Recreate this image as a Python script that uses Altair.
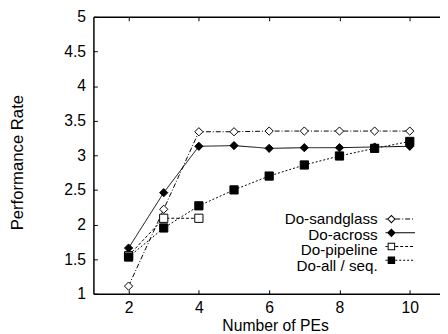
import altair as alt
import pandas as pd

# ---- data ----
pes = [2, 3, 4, 5, 6, 7, 8, 9, 10]
sandglass = [1.11, 2.22, 3.34, 3.34, 3.35, 3.35, 3.35, 3.35, 3.35]
across = [1.66, 2.46, 3.13, 3.14, 3.10, 3.11, 3.11, 3.12, 3.13]
pipeline_pes = [2, 3, 4]
pipeline = [1.55, 2.09, 2.09]
seq = [1.53, 1.95, 2.27, 2.50, 2.70, 2.86, 2.99, 3.10, 3.20]

series_names = ["Do-sandglass", "Do-across", "Do-pipeline", "Do-all / seq."]
x_ticks = [2, 4, 6, 8, 10]
y_ticks = [1, 1.5, 2, 2.5, 3, 3.5, 4, 4.5, 5]

rows = []
for name, xs_, ys_ in [
    (series_names[0], pes, sandglass),
    (series_names[1], pes, across),
    (series_names[2], pipeline_pes, pipeline),
    (series_names[3], pes, seq),
]:
    for xv, yv in zip(xs_, ys_):
        rows.append({"pes": xv, "rate": yv, "series": name,
                     "series2": name, "series3": name})
df = pd.DataFrame(rows)

# ---- styles ----
FONT = "Liberation Sans"
dash_px = [[5, 2, 1, 2], [1, 0], [3, 2], [2, 2]]

# legend glyphs (line sample + marker) as filled SVG paths, unit = 4 px
U = 4.0
H = 0.5 / U


def seg_rects(a, b, pattern):
    if pattern[1] == 0:
        return f"M{a},{-H}H{b}V{H}H{a}Z"
    pat = [p / U for p in pattern]
    out, pos, i = [], a, 0
    while pos < b:
        ln = pat[i % len(pat)]
        if i % 2 == 0:
            end = min(pos + ln, b)
            out.append(f"M{pos:.3f},{-H}H{end:.3f}V{H}H{pos:.3f}Z")
        pos += ln
        i += 1
    return "".join(out)


def diamond(r, hole=None):
    p = f"M{-r},0L0,{-r}L{r},0L0,{r}Z"
    if hole:
        p += f"M{-hole},0L0,{hole}L{hole},0L0,{-hole}Z"
    return p


def square(r, hole=None):
    p = f"M{-r},{-r}H{r}V{r}H{-r}Z"
    if hole:
        p += f"M{-hole},{-hole}V{hole}H{hole}V{-hole}Z"
    return p


markers = [diamond(1.1, 0.75), diamond(1.1), square(0.95, 0.7), square(0.95)]
legend_paths = [
    seg_rects(-1.5, -1.0, dp) + seg_rects(1.0, 6.0, dp) + mk
    for dp, mk in zip(dash_px, markers)
]

xs = alt.Scale(domain=[1, 10.86], nice=False, zero=False)
ys = alt.Scale(domain=[1, 5], nice=False, zero=False)

x_main = alt.X(
    "pes:Q", scale=xs,
    axis=alt.Axis(orient="bottom", values=x_ticks, ticks=False, tickSize=0,
                  domain=True, domainColor="black", domainWidth=1.5, grid=False,
                  labelFont=FONT, labelFontSize=16, labelColor="black",
                  labelPadding=19.5, labelBaseline="alphabetic",
                  title="Number of PEs", titleFont=FONT, titleFontSize=16,
                  titleFontWeight="normal", titleColor="black",
                  titleX=185, titleY=37, titleBaseline="alphabetic",
                  titleAlign="center"))
y_main = alt.Y(
    "rate:Q", scale=ys,
    axis=alt.Axis(orient="left", values=y_ticks, format="~g", ticks=False, tickSize=0,
                  domain=True, domainColor="black", domainWidth=1.5, grid=False,
                  labelFont=FONT, labelFontSize=16, labelColor="black",
                  labelPadding=8, labelBaseline="middle",
                  title="Performance Rate", titleFont=FONT, titleFontSize=17,
                  titleFontWeight="normal", titleColor="black", titleAngle=270,
                  titleX=-72, titleY=148, titleBaseline="alphabetic",
                  titleAlign="center"))

lines = alt.Chart(df).mark_line(color="black", strokeWidth=1).encode(
    x=x_main, y=y_main,
    strokeDash=alt.StrokeDash("series:N", sort=series_names,
                              scale=alt.Scale(range=dash_px), legend=None),
)

points = alt.Chart(df).mark_point(size=70, stroke="black", strokeWidth=1, opacity=1).encode(
    x=alt.X("pes:Q", scale=xs, axis=None),
    y=alt.Y("rate:Q", scale=ys, axis=None),
    shape=alt.Shape("series:N", sort=series_names,
                    scale=alt.Scale(range=["diamond", "diamond", "square", "square"]),
                    legend=None),
    fill=alt.Fill("series:N", sort=series_names,
                  scale=alt.Scale(range=["white", "black", "white", "black"]),
                  legend=None),
)

LEG_X, LEG_Y = 297, 198.5

# legend 1: the texts (entry height clipped to 15 px)
legend_text = alt.Chart(df).mark_point(filled=True, color="black", opacity=0).encode(
    x=alt.X("pes:Q", scale=xs, axis=None),
    y=alt.Y("rate:Q", scale=ys, axis=None),
    shape=alt.Shape(
        "series2:N", sort=series_names,
        scale=alt.Scale(range=legend_paths),
        legend=alt.Legend(title=None, orient="none", legendX=LEG_X, legendY=LEG_Y,
                          symbolSize=U * U * 4, symbolOpacity=0,
                          labelFont=FONT, labelFontSize=15.5, labelColor="black",
                          labelAlign="right", labelBaseline="middle",
                          labelOffset={"expr": "-23"},
                          clipHeight=15, rowPadding=0,
                          padding=0, offset=0)),
)

# legend 2: the line samples with markers
legend_glyph = alt.Chart(df).mark_point(filled=True, color="black", opacity=0).encode(
    x=alt.X("pes:Q", scale=xs, axis=None),
    y=alt.Y("rate:Q", scale=ys, axis=None),
    shape=alt.Shape(
        "series3:N", sort=series_names,
        scale=alt.Scale(range=legend_paths),
        legend=alt.Legend(title=None, orient="none", legendX=LEG_X, legendY=LEG_Y + 1,
                          symbolSize=U * U * 4, symbolFillColor="black",
                          symbolStrokeColor="black", symbolStrokeWidth=0,
                          symbolOpacity=1, labelExpr="''",
                          labelFont=FONT, labelFontSize=13, rowPadding=0,
                          padding=0, offset=0)),
)

NEG4 = {"expr": "-4"}

ticks_bl = alt.Chart(df).mark_point(opacity=0).encode(
    x=alt.X("pes:Q", scale=xs,
            axis=alt.Axis(orient="bottom", offset=NEG4, values=x_ticks, ticks=True,
                          tickSize=4, tickColor="black", tickWidth=1, domain=False,
                          labels=False, grid=False, title=None)),
    y=alt.Y("rate:Q", scale=ys,
            axis=alt.Axis(orient="left", offset=NEG4, values=y_ticks, ticks=True,
                          tickSize=4, tickColor="black", tickWidth=1, domain=False,
                          labels=False, grid=False, title=None)),
)

ticks_top = alt.Chart(df).mark_point(opacity=0).encode(
    x=alt.X("pes:Q", scale=xs,
            axis=alt.Axis(orient="top", offset=NEG4, values=x_ticks, ticks=True,
                          tickSize=4, tickColor="black", tickWidth=1, domain=False,
                          labels=False, grid=False, title=None)),
    y=alt.Y("rate:Q", scale=ys, axis=None),
)

frame_top = alt.Chart(df).mark_point(opacity=0).encode(
    x=alt.X("pes:Q", scale=xs,
            axis=alt.Axis(orient="top", ticks=False, labels=False, domain=True,
                          domainColor="black", domainWidth=1.5, grid=False, title=None)),
    y=alt.Y("rate:Q", scale=ys, axis=None),
)

chart = alt.layer(lines, points, legend_text, legend_glyph,
                  ticks_bl, ticks_top, frame_top).resolve_axis(
    x="independent", y="independent"
).resolve_scale(shape="independent").properties(
    width=353, height=282,
    autosize=alt.AutoSizeParams(type="none"),
    padding={"left": 87, "top": 6, "right": 0, "bottom": 38},
    background="white",
).configure_view(stroke=None)

chart.save("out.html", embed_options={"renderer": "svg", "actions": False})
